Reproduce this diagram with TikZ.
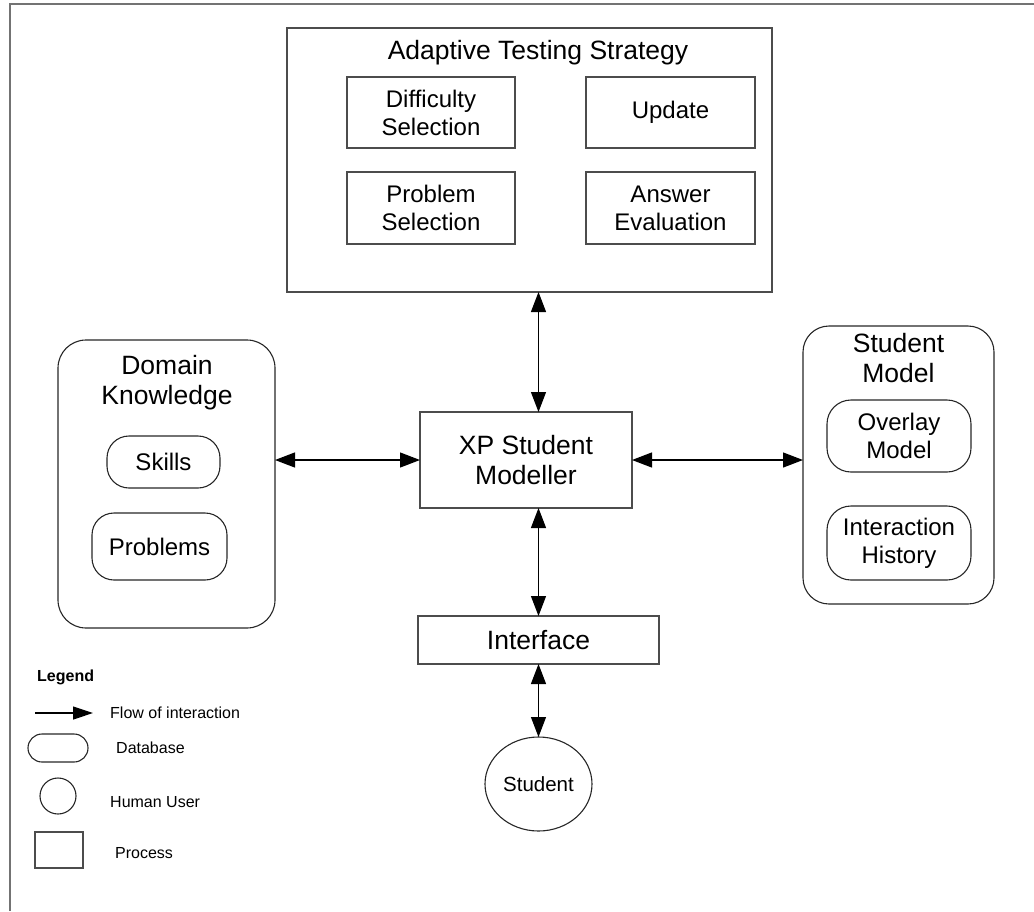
\documentclass[tikz,border=0pt]{standalone}
\usepackage{fontspec}
\setmainfont{Liberation Sans}
\usetikzlibrary{shapes.geometric, arrows.meta, positioning}

\definecolor{linegray}{gray}{0.3}
\definecolor{framegray}{gray}{0.45}

\begin{document}
\begin{tikzpicture}[
    x=1pt, y=-1pt,
    big/.style={font=\fontsize{26.5}{30}\selectfont, align=center, inner sep=0pt},
    small/.style={font=\fontsize{24}{28}\selectfont, align=center, inner sep=0pt},
    legtext/.style={font=\fontsize{16}{19}\selectfont, anchor=west, inner sep=0pt},
    process/.style={rectangle, draw=linegray, line width=1.2pt, inner sep=0pt, outer sep=0pt, align=center},
    store/.style={rectangle, rounded corners=#1, draw=black!85, line width=1.1pt, inner sep=0pt, outer sep=0pt, align=center},
    user/.style={ellipse, draw=black!85, line width=1.1pt, inner sep=0pt, outer sep=0pt},
    arrow/.style={{Triangle[length=20pt,width=15pt]}-{Triangle[length=20pt,width=15pt]}, line width=1.2pt, black}
]
    \useasboundingbox (0,0) rectangle (1034,911);

    % FRAME
    \draw [framegray, line width=2pt] (10,911) -- (10,4) -- (1034,4);

    % ADAPTIVE TESTING STRATEGY
    \node (ats) [process, minimum width=485pt, minimum height=264pt] at (529.5,160) {};
    \node (atstitle) [big] at (538,53) {Adaptive Testing Strategy};
    \node (diff) [process, small, minimum width=168pt, minimum height=71pt] at (431,112.5) {Difficulty\\Selection};
    \node (update) [process, small, minimum width=169pt, minimum height=71pt] at (670.5,112.5) {Update};
    \node (probsel) [process, small, minimum width=168pt, minimum height=72pt] at (431,208) {Problem\\Selection};
    \node (answer) [process, small, minimum width=169pt, minimum height=72pt] at (670.5,208) {Answer\\Evaluation};

    % XP STUDENT MODELLER
    \node (xp) [process, big, minimum width=212pt, minimum height=96pt] at (526,460) {XP Student\\Modeller};

    % DOMAIN KNOWLEDGE
    \node (dk) [store=28pt, minimum width=217pt, minimum height=288pt] at (166.5,484) {};
    \node (dktitle) [big] at (167,383) {Domain\\Knowledge};
    \node (skills) [store=22pt, small, minimum width=113pt, minimum height=52pt] at (163.5,462) {Skills};
    \node (problems) [store=22pt, small, minimum width=135pt, minimum height=67pt] at (159.5,546.5) {Problems};

    % STUDENT MODEL
    \node (sm) [store=26pt, minimum width=191pt, minimum height=278pt] at (898.5,465) {};
    \node (smtitle) [big] at (898.5,358) {Student\\Model};
    \node (overlay) [store=24pt, small, minimum width=144pt, minimum height=72pt] at (899,436) {Overlay\\Model};
    \node (history) [store=24pt, small, minimum width=144pt, minimum height=74pt] at (899,543) {Interaction\\History};

    % INTERFACE AND STUDENT
    \node (iface) [process, big, minimum width=241pt, minimum height=48pt] at (538.5,640) {Interface};
    \node (student) [user, minimum width=107pt, minimum height=94pt, font=\fontsize{20.5}{24}\selectfont] at (538.5,784) {Student};

    % INTERACTION FLOWS
    \draw [arrow] (ats.south -| iface.center) -- (xp.north -| iface.center);
    \draw [arrow] (xp.south -| iface.center) -- (iface.north);
    \draw [arrow] (iface.south) -- (student.north);
    \draw [arrow] (dk.east |- xp.west) -- (xp.west);
    \draw [arrow] (xp.east) -- (sm.west |- xp.east);

    % LEGEND
    \node (legtitle) [legtext, font=\fontsize{16}{19}\selectfont\bfseries] at (37,677) {Legend};
    \coordinate (flowa) at (35,713);
    \coordinate (flowb) at (93,713);
    \draw [-{Triangle[length=20pt,width=13pt]}, line width=1.2pt] (flowa) -- (flowb);
    \node (flowtext) [legtext] at (110,713) {Flow of interaction};
    \node (legdb) [store=14pt, minimum width=60pt, minimum height=28pt] at (58,748) {};
    \node (dbtext) [legtext] at (116,748) {Database};
    \node (leguser) [user, minimum width=36pt, minimum height=36pt] at (58,796) {};
    \node (usertext) [legtext] at (110,802) {Human User};
    \node (legproc) [process, minimum width=48pt, minimum height=36pt] at (59,850) {};
    \node (proctext) [legtext] at (115,853) {Process};

\end{tikzpicture}
\end{document}
